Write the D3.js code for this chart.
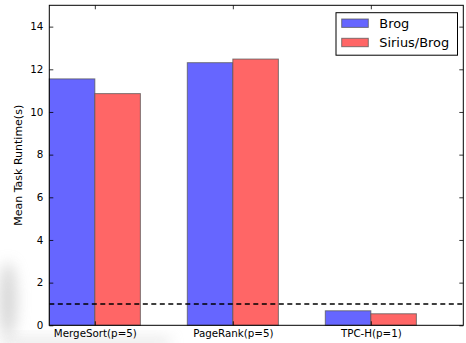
<!DOCTYPE html>
<html>
<head>
<meta charset="utf-8">
<script src="https://cdn.jsdelivr.net/npm/d3@7"></script>
<style>
  html, body { margin: 0; padding: 0; background: #fff; }
  svg { display: block; font-family: "DejaVu Sans", sans-serif; }
</style>
</head>
<body>
<svg id="chart" width="466" height="343"></svg>
<script>
// Benchmarks and the mean runtime of each system
const categories = ["MergeSort(p=5)", "PageRank(p=5)", "TPC-H(p=1)"];
const seriesNames = ["Brog", "Sirius/Brog"];
const brogValues = [11.55, 12.31, 0.68];
const siriusValues = [10.86, 12.48, 0.54];
const yTicks = [0, 2, 4, 6, 8, 10, 12, 14];
const referenceLine = 1;

const colors = ["#6666ff", "#ff6666"];
const barWidth = 0.33;

const svg = d3.select("#chart");
const margin = { left: 49.3, right: 466 - 463.3, top: 5.3, bottom: 343 - 325.3 };
const W = 466, H = 343;

const x = d3.scaleLinear().domain([0, 3]).range([margin.left, W - margin.right]);
const y = d3.scaleLinear().domain([0, 15]).range([H - margin.bottom, margin.top]);

// soft shading near the lower-left corner
const defs = svg.append("defs");
defs.append("filter").attr("id", "soft").attr("x", "-100%").attr("y", "-100%")
  .attr("width", "300%").attr("height", "300%")
  .append("feGaussianBlur").attr("stdDeviation", 7);
svg.append("ellipse").attr("cx", 8).attr("cy", 300).attr("rx", 9).attr("ry", 38)
  .attr("fill", "#b8b8b8").attr("opacity", 0.55).attr("filter", "url(#soft)");
svg.append("rect").attr("x", 0).attr("y", 338).attr("width", 170).attr("height", 8)
  .attr("fill", "#c8c8c8").attr("opacity", 0.5).attr("filter", "url(#soft)");

const series = [brogValues, siriusValues];
series.forEach((vals, s) => {
  svg.append("g").selectAll("rect").data(vals).join("rect")
    .attr("x", (d, i) => x(i + s * barWidth))
    .attr("width", x(barWidth) - x(0))
    .attr("y", d => y(d))
    .attr("height", d => y(0) - y(d))
    .attr("fill", colors[s])
    .attr("stroke", "#555")
    .attr("stroke-opacity", 0.75)
    .attr("stroke-width", 1);
});

// horizontal reference line
svg.append("line")
  .attr("x1", x(0)).attr("x2", x(3))
  .attr("y1", y(referenceLine)).attr("y2", y(referenceLine))
  .attr("stroke", "#000").attr("stroke-width", 1.4)
  .attr("stroke-dasharray", "5,3.5");

// axes with inward ticks on all four sides
const xTickPos = categories.map((c, i) => i + barWidth);
const fontSize = 10.3;

const axLeft = svg.append("g").attr("transform", `translate(${x(0)},0)`)
  .call(d3.axisLeft(y).tickValues(yTicks).tickSizeInner(-4).tickSizeOuter(0).tickPadding(6));
const axRight = svg.append("g").attr("transform", `translate(${x(3)},0)`)
  .call(d3.axisRight(y).tickValues(yTicks).tickSizeInner(-4).tickSizeOuter(0).tickFormat(""));
const axBottom = svg.append("g").attr("transform", `translate(0,${y(0)})`)
  .call(d3.axisBottom(x).tickValues(xTickPos).tickSizeInner(-4).tickSizeOuter(0).tickPadding(6)
    .tickFormat((d, i) => categories[i]));
const axTop = svg.append("g").attr("transform", `translate(0,${y(15)})`)
  .call(d3.axisTop(x).tickValues(xTickPos).tickSizeInner(-4).tickSizeOuter(0).tickFormat(""));

[axLeft, axRight, axBottom, axTop].forEach(g => {
  g.select(".domain").remove();
  g.selectAll("line").attr("stroke", "#000").attr("stroke-width", 0.8);
  g.selectAll("text").attr("font-size", fontSize).attr("fill", "#000")
    .attr("font-family", "DejaVu Sans, sans-serif");
});
axBottom.selectAll("text").attr("dy", "0.6em");

// frame
svg.append("rect")
  .attr("x", x(0)).attr("y", y(15))
  .attr("width", x(3) - x(0)).attr("height", y(0) - y(15))
  .attr("fill", "none").attr("stroke", "#000").attr("stroke-width", 1);

// y axis title
svg.append("text")
  .attr("transform", `translate(21.5,${(y(0) + y(15)) / 2}) rotate(-90)`)
  .attr("text-anchor", "middle")
  .attr("font-size", 11)
  .text("Mean Task Runtime(s)");

// legend
const legend = svg.append("g").attr("transform", "translate(336,12.7)");
legend.append("rect").attr("width", 121.5).attr("height", 42.5)
  .attr("fill", "#fff").attr("stroke", "#000").attr("stroke-width", 1);
seriesNames.forEach((name, i) => {
  legend.append("rect")
    .attr("x", 5.7).attr("y", 6.3 + i * 19.3)
    .attr("width", 26.6).attr("height", 8.4)
    .attr("fill", colors[i]).attr("stroke", "#555").attr("stroke-opacity", 0.75);
  legend.append("text")
    .attr("x", 43.3).attr("y", 15 + i * 19.3)
    .attr("font-size", 12.9)
    .text(name);
});
</script>
</body>
</html>
